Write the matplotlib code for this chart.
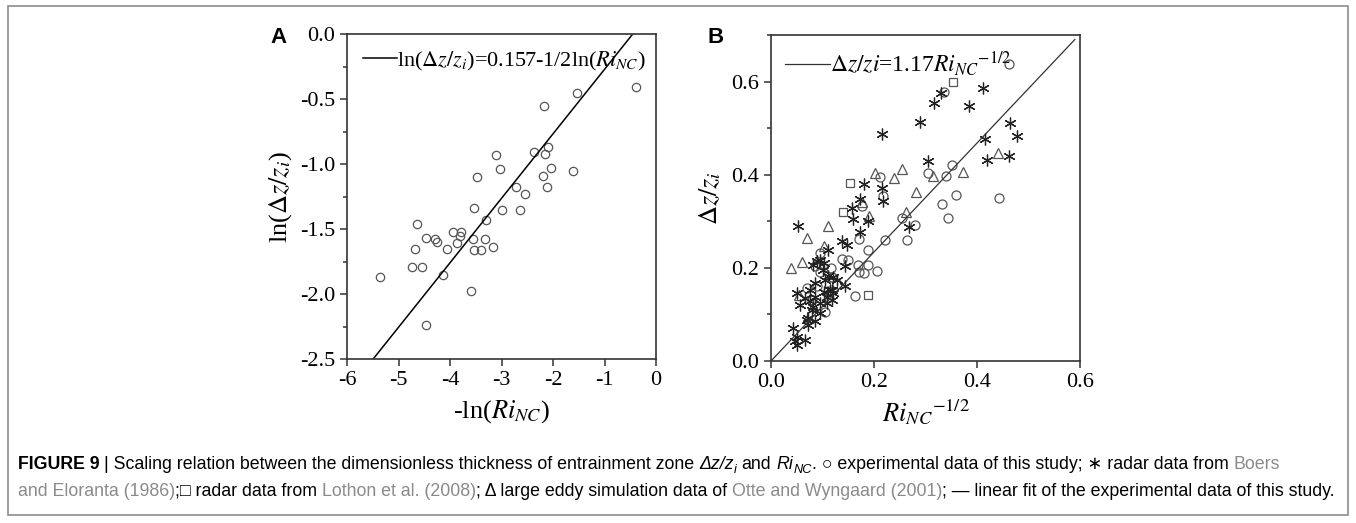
import numpy as np
import matplotlib.pyplot as plt
from matplotlib.patches import Rectangle
from matplotlib.ticker import MultipleLocator

plt.rcParams['font.family'] = ['Liberation Serif', 'DejaVu Serif']
plt.rcParams['mathtext.fontset'] = 'stix'

# Panel A: -ln(Ri_NC) vs ln(dz/zi), experimental data
a_x = [-5.35, -4.73, -4.54, -4.67, -4.65, -4.46, -4.46, -4.30, -4.25, -4.13,
       -4.06, -3.95, -3.87, -3.81, -3.78, -3.60, -3.55, -3.54, -3.54, -3.47,
       -3.40, -3.32, -3.31, -3.16, -3.10, -3.03, -3.00, -2.72, -2.64, -2.54,
       -2.37, -2.19, -2.18, -2.15, -2.12, -2.09, -2.04, -1.61, -1.53, -0.38]
a_y = [-1.87, -1.79, -1.79, -1.65, -1.46, -1.57, -2.24, -1.58, -1.60, -1.85,
       -1.65, -1.52, -1.61, -1.55, -1.52, -1.98, -1.58, -1.66, -1.34, -1.10,
       -1.66, -1.58, -1.43, -1.64, -0.93, -1.04, -1.35, -1.18, -1.35, -1.23,
       -0.91, -1.09, -0.55, -0.92, -1.18, -0.87, -1.03, -1.05, -0.45, -0.41]
a_fit_slope = 0.496
a_fit_icpt = 0.224
a_fit_range = [-5.49, -0.45]

# Panel B: Ri_NC^-1/2 vs dz/zi
b_circ_x = [0.463, 0.335, 0.305, 0.339, 0.351, 0.333, 0.359, 0.344, 0.443, 0.254,
            0.280, 0.265, 0.221, 0.212, 0.218, 0.176, 0.170, 0.189, 0.168, 0.189,
            0.205, 0.170, 0.181, 0.163, 0.150, 0.137, 0.117, 0.095, 0.085, 0.105,
            0.069, 0.079, 0.118, 0.096, 0.128, 0.110, 0.090]
b_circ_y = [0.637, 0.578, 0.404, 0.397, 0.421, 0.337, 0.356, 0.307, 0.350, 0.306,
            0.291, 0.260, 0.260, 0.395, 0.354, 0.332, 0.262, 0.238, 0.207, 0.207,
            0.194, 0.192, 0.190, 0.140, 0.217, 0.219, 0.199, 0.192, 0.203, 0.106,
            0.156, 0.131, 0.181, 0.232, 0.165, 0.150, 0.160]
b_star_x = [0.412, 0.317, 0.331, 0.384, 0.289, 0.215, 0.465, 0.477, 0.415, 0.419,
            0.463, 0.305, 0.181, 0.215, 0.217, 0.173, 0.157, 0.160, 0.188, 0.173,
            0.267, 0.052, 0.137, 0.147, 0.110, 0.143, 0.143, 0.050,
            0.043, 0.050, 0.050, 0.066, 0.069, 0.072, 0.085, 0.066, 0.076, 0.085,
            0.095, 0.102, 0.108, 0.118, 0.118, 0.105, 0.085, 0.095, 0.111, 0.128,
            0.089, 0.082, 0.095, 0.121, 0.108, 0.102, 0.056, 0.079, 0.081, 0.100,
            0.121, 0.076, 0.072, 0.047, 0.115]
b_star_y = [0.587, 0.553, 0.575, 0.548, 0.514, 0.487, 0.512, 0.483, 0.476, 0.431,
            0.440, 0.429, 0.380, 0.372, 0.343, 0.348, 0.329, 0.304, 0.301, 0.278,
            0.288, 0.289, 0.257, 0.250, 0.239, 0.203, 0.160, 0.146,
            0.070, 0.052, 0.034, 0.045, 0.088, 0.078, 0.085, 0.135, 0.128, 0.138,
            0.124, 0.149, 0.138, 0.153, 0.131, 0.174, 0.167, 0.217, 0.182, 0.174,
            0.214, 0.117, 0.103, 0.146, 0.124, 0.210, 0.121, 0.110, 0.206, 0.196,
            0.181, 0.153, 0.092, 0.042, 0.153]
b_sq_x = [0.353, 0.154, 0.139, 0.189]
b_sq_y = [0.600, 0.382, 0.321, 0.142]
b_tri_x = [0.440, 0.373, 0.314, 0.254, 0.239, 0.201, 0.281, 0.263, 0.191, 0.176,
           0.110, 0.069, 0.038, 0.060, 0.102, 0.055]
b_tri_y = [0.447, 0.406, 0.397, 0.412, 0.393, 0.403, 0.362, 0.321, 0.312, 0.342,
           0.289, 0.265, 0.199, 0.212, 0.248, 0.142]
b_fit_slope = 1.17
b_fit_range = [0.0, 0.59]

W, H = 1356, 523
fig = plt.figure(figsize=(W / 100, H / 100), dpi=100)

# light border round the whole figure
fig.add_artist(Rectangle((8 / W, 1 - 515 / H), 1340 / W, 509 / H,
                         transform=fig.transFigure, fill=False,
                         edgecolor='#8c8c8c', lw=1.2))

def style_axes(ax):
    for s in ax.spines.values():
        s.set_linewidth(1.2)
        s.set_color('#333333')
    ax.tick_params(which='both', direction='out', top=False, right=False,
                   labelsize=16, width=1.1, color='#333333')
    ax.tick_params(which='major', length=5)
    ax.tick_params(which='minor', length=3)

# ---- panel A
axA = fig.add_axes([347 / W, 1 - 359 / H, 309 / W, 325 / H])
axA.plot(a_x, a_y, 'o', ms=6, mfc='none', mec='#555555', mew=0.9)
fx = np.array(a_fit_range)
axA.plot(fx, a_fit_slope * fx + a_fit_icpt, color='black', lw=1.1,
         label=r'ln($\Delta z/z_i$)=0.157-1/2ln($Ri_{NC}$)')
axA.set_xlim(-6, 0)
axA.set_ylim(-2.5, 0)
axA.yaxis.set_minor_locator(MultipleLocator(0.25))
axA.set_xticks(range(-6, 1), ['-6', '-5', '-4', '-3', '-2', '-1', '0'])
axA.set_yticks(np.arange(-2.5, 0.01, 0.5),
               ['-2.5', '-2.0', '-1.5', '-1.0', '-0.5', '0.0'])
style_axes(axA)
axA.set_xlabel(r'-ln($Ri_{NC}$)', fontsize=19, labelpad=6)
axA.set_ylabel(r'ln($\Delta z/z_i$)', fontsize=19, labelpad=4)
axA.legend(loc='upper left', frameon=False, fontsize=16, handlelength=1.55,
           handletextpad=0.0, borderaxespad=0.3, bbox_to_anchor=(0.0, 1.0))

# ---- panel B
axB = fig.add_axes([771 / W, 1 - 361 / H, 309 / W, 326 / H])
axB.plot(b_circ_x, b_circ_y, 'o', ms=6.5, mfc='none', mec='#555555', mew=0.9)
axB.plot(b_tri_x, b_tri_y, '^', ms=7.5, mfc='none', mec='#555555', mew=0.9)
axB.plot(b_sq_x, b_sq_y, 's', ms=5.5, mfc='none', mec='#555555', mew=0.9)
axB.plot(b_star_x, b_star_y, ls='none', marker=(6, 2, 0), ms=8.5,
         mec='#222222', mew=0.9)
bx = np.array(b_fit_range)
axB.plot(bx, b_fit_slope * bx, color='#333333', lw=0.9,
         label=r'$\Delta z/zi$=1.17$Ri_{NC}$$^{-1/2}$')
axB.set_xlim(0, 0.6)
axB.set_ylim(0, 0.70)
axB.set_xticks([0, 0.2, 0.4, 0.6], ['0.0', '0.2', '0.4', '0.6'])
axB.set_yticks([0, 0.2, 0.4, 0.6], ['0.0', '0.2', '0.4', '0.6'])
axB.yaxis.set_minor_locator(MultipleLocator(0.1))
style_axes(axB)
axB.set_xlabel(r'$Ri_{NC}$$^{-1/2}$', fontsize=19, labelpad=4)
axB.set_ylabel(r'$\Delta z/z_i$', fontsize=19, labelpad=6)
axB.legend(loc='upper left', frameon=False, fontsize=17, handlelength=1.9,
           handletextpad=0.0, borderaxespad=0.2, bbox_to_anchor=(0.0, 1.0))

# panel letters
fig.text(270 / W, 1 - 43 / H, 'A', family='Liberation Sans', weight='bold',
         fontsize=16, va='baseline')
fig.text(707 / W, 1 - 43 / H, 'B', family='Liberation Sans', weight='bold',
         fontsize=16, va='baseline')

# ---- caption, drawn piece by piece
GRAY = '#8a8a8a'
SANS = ['Liberation Sans', 'DejaVu Sans']
renderer = fig.canvas.get_renderer()

line1 = [('FIGURE 9', 'k', 'bold', 'normal', False),
         (' | Scaling relation between the dimensionless thickness of entrainment zone ', 'k', 'normal', 'normal', False),
         ('\u0394z/z', 'k', 'normal', 'italic', False),
         ('i', 'k', 'normal', 'italic', True),
         (' and ', 'k', 'normal', 'normal', False),
         ('Ri', 'k', 'normal', 'italic', False),
         ('NC', 'k', 'normal', 'italic', True),
         ('. \u25cb experimental data of this study; \u2217 radar data from ', 'k', 'normal', 'normal', False),
         ('Boers', GRAY, 'normal', 'normal', False)]
line2 = [('and Eloranta (1986)', GRAY, 'normal', 'normal', False),
         (';\u25a1 radar data from ', 'k', 'normal', 'normal', False),
         ('Lothon et al. (2008)', GRAY, 'normal', 'normal', False),
         ('; \u0394 large eddy simulation data of ', 'k', 'normal', 'normal', False),
         ('Otte and Wyngaard (2001)', GRAY, 'normal', 'normal', False),
         ('; \u2014 linear fit of the experimental data of this study.', 'k', 'normal', 'normal', False)]


def text_w(s, size, **kw):
    t = fig.text(0, 0, s, fontsize=size, family=SANS, **kw)
    w = t.get_window_extent(renderer).width
    t.remove()
    return w


def write_line(parts, x0, y, size):
    # y is the baseline in pixels from the top
    sp = text_w('x x', size) - text_w('xx', size)
    x = x0
    arts = []
    for s, col, wt, st, sub in parts:
        lead = len(s) - len(s.lstrip(' '))
        trail = len(s) - len(s.rstrip(' '))
        core = s.strip(' ')
        x += lead * sp
        fs = size * 0.72 if sub else size
        yy = y + (size * 0.35 if sub else 0)
        t = fig.text(x / W, 1 - yy / H, core, fontsize=fs, family=SANS,
                     color=col, weight=wt, style=st, va='baseline')
        x += t.get_window_extent(renderer).width + trail * sp
        arts.append(t)
    return x, arts


end, arts = write_line(line2, 18, 496, 10)
for a in arts:
    a.remove()
size = 10 * (1340 - 18) / (end - 18)
write_line(line1, 18, 469, size)
write_line(line2, 18, 496, size)

fig.savefig('out.png', dpi=100)
